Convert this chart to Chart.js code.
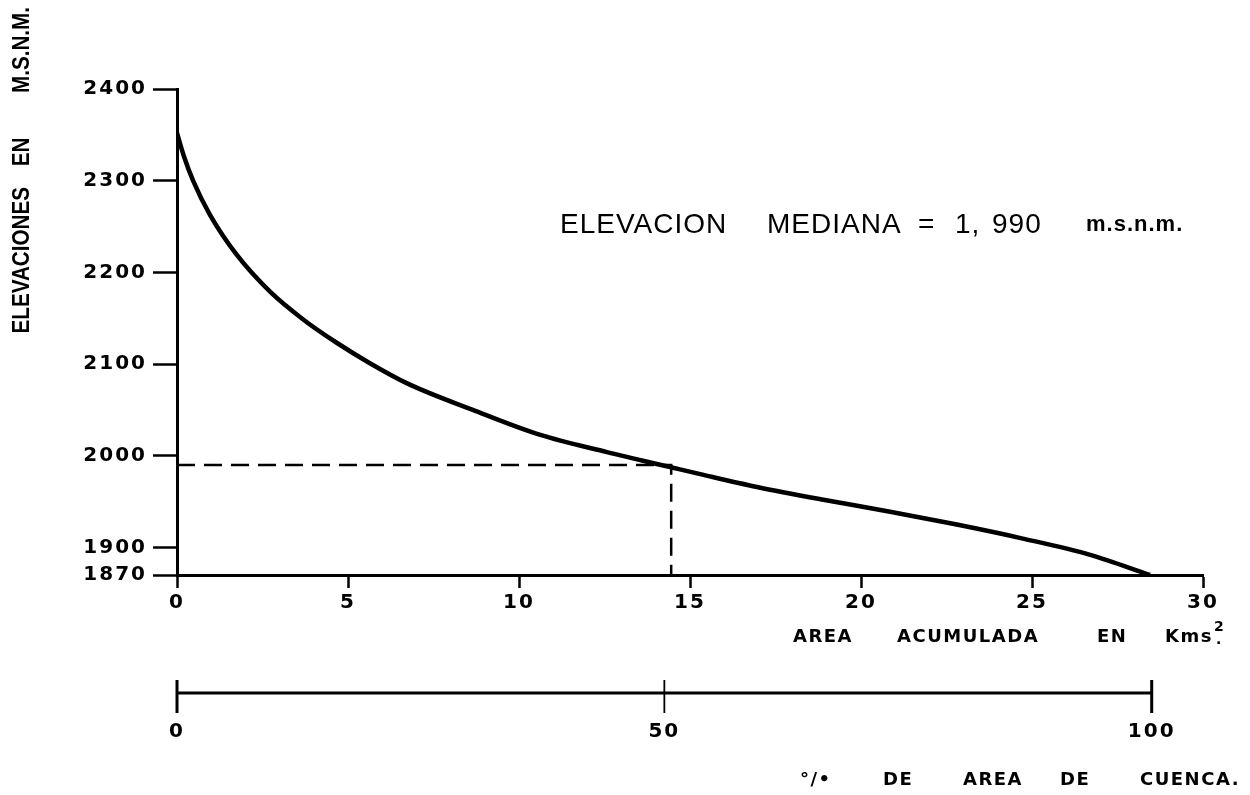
<!DOCTYPE html>
<html>
<head>
<meta charset="utf-8">
<script src="https://cdn.jsdelivr.net/npm/chart.js@4"></script>
<style>
  html, body { margin: 0; padding: 0; background: #fff; }
  #wrap { width: 1250px; height: 795px; position: relative; }
</style>
</head>
<body>
<div id="wrap"><canvas id="c"></canvas></div>
<script>
// ---- data ----
const areaKm2   = [0, 0.2, 0.47, 0.96, 1.75, 2.72, 3.68, 4.68, 5.64, 6.73, 8.65, 10.6, 12.57, 14.5, 15.3, 16.96, 18.9, 20.85, 22.8, 24.7, 26.7, 28.45];
const elevation = [2352, 2327, 2300, 2263, 2219, 2179, 2149, 2123, 2101, 2079, 2050, 2023, 2004, 1987, 1980, 1966, 1952, 1939, 1925, 1910, 1892, 1870];
const yTicks = [1870, 1900, 2000, 2100, 2200, 2300, 2400];
const xTicks = [0, 5, 10, 15, 20, 25, 30];
const pctTicks = [0, 50, 100];
const totalAreaKm2 = 28.5;
const medianElevation = 1990;
const medianArea = 14.45;

const yTitleWords = ['ELEVACIONES', 'EN', 'M.S.N.M.'];
const xTitleWords = ['AREA', 'ACUMULADA', 'EN', 'Kms'];
const pctTitleWords = ['°/•', 'DE', 'AREA', 'DE', 'CUENCA.'];
const noteWords = ['ELEVACION', 'MEDIANA', '=', '1,', '990', 'm.s.n.m.'];

const curve = areaKm2.map((x, i) => ({ x: x, y: elevation[i] }));
const medianGuide = [
  { x: xTicks[0], y: medianElevation },
  { x: medianArea, y: medianElevation },
  { x: medianArea, y: yTicks[0] }
];

const BOLD = '"DejaVu Sans", sans-serif';

const textPlugin = {
  id: 'texts',
  beforeDraw(chart) { chart.ctx.letterSpacing = '2px'; },
  afterDraw(chart) {
    const ctx = chart.ctx;
    const x2 = chart.scales.x2, xs = chart.scales.x;
    ctx.save();
    ctx.fillStyle = '#000';
    ctx.strokeStyle = '#000';
    ctx.lineCap = 'butt';

    // secondary percentage axis (0..100 % of basin area)
    const lineY = x2.top + 48;
    const p0 = x2.getPixelForValue(pctTicks[0]);
    const p1 = x2.getPixelForValue(pctTicks[pctTicks.length - 1]);
    ctx.lineWidth = 3;
    ctx.beginPath(); ctx.moveTo(p0, lineY); ctx.lineTo(p1, lineY); ctx.stroke();
    pctTicks.forEach((v, i) => {
      const px = x2.getPixelForValue(v);
      ctx.lineWidth = (i === 0 || i === pctTicks.length - 1) ? 3 : 1.8;
      ctx.beginPath(); ctx.moveTo(px, lineY - 13); ctx.lineTo(px, lineY + 20); ctx.stroke();
    });

    ctx.textBaseline = 'middle';
    ctx.textAlign = 'left';

    // x axis title
    ctx.letterSpacing = '1.5px';
    ctx.font = 'bold 18px ' + BOLD;
    const xtY = xs.top + 62;
    const xtX = [793, 897, 1097, 1165];
    xTitleWords.forEach((w, i) => ctx.fillText(w, xtX[i], xtY));
    const kw = ctx.measureText(xTitleWords[3]).width;
    ctx.font = 'bold 14px ' + BOLD;
    ctx.letterSpacing = '0px';
    ctx.fillText('2', xtX[3] + kw + 1, xtY - 10);
    ctx.fillText('.', xtX[3] + kw + 3, xtY + 3);

    // percentage axis title
    ctx.letterSpacing = '1.5px';
    ctx.font = 'bold 18px ' + BOLD;
    const ptY = x2.top + 135;
    const ptX = [800, 883, 963, 1060, 1140];
    pctTitleWords.forEach((w, i) => ctx.fillText(w, ptX[i], ptY));

    // annotation
    ctx.letterSpacing = '1px';
    ctx.font = '28px "Liberation Sans", sans-serif';
    const nY = 225;
    const nX = [560, 767, 918, 955, 992, 1086];
    noteWords.forEach((w, i) => {
      if (i === 5) { ctx.font = 'bold 22px "Liberation Sans", sans-serif'; }
      ctx.fillText(w, nX[i], nY);
    });

    // y axis title (rotated)
    ctx.letterSpacing = '0px';
    ctx.font = 'bold 24px "Liberation Sans", sans-serif';
    const tx = 22;
    const place = [[187, 'right'], [152, 'center'], [93, 'left']];
    yTitleWords.forEach((w, i) => {
      ctx.save();
      ctx.translate(tx, place[i][0]);
      ctx.rotate(-Math.PI / 2);
      ctx.scale(0.86, 1);
      ctx.textAlign = place[i][1];
      ctx.fillText(w, 0, 0);
      ctx.restore();
    });
    ctx.restore();
  }
};

new Chart(document.getElementById('c'), {
  type: 'scatter',
  data: {
    datasets: [
      {
        data: curve,
        showLine: true,
        borderColor: '#000',
        borderWidth: 4.5,
        pointRadius: 0,
        cubicInterpolationMode: 'monotone',
        fill: false
      },
      {
        data: medianGuide,
        showLine: true,
        borderColor: '#000',
        borderWidth: 2.5,
        borderDash: [18, 9],
        pointRadius: 0,
        tension: 0,
        fill: false
      }
    ]
  },
  options: {
    responsive: true,
    maintainAspectRatio: false,
    animation: false,
    layout: { padding: { left: 0, right: 47, top: 89, bottom: 0 } },
    plugins: { legend: { display: false }, tooltip: { enabled: false }, title: { display: false } },
    scales: {
      x: {
        type: 'linear', position: 'bottom', weight: 0,
        min: xTicks[0], max: xTicks[xTicks.length - 1],
        afterBuildTicks: s => { s.ticks = xTicks.map(v => ({ value: v })); },
        afterFit: s => { s.height = 70; },
        ticks: { autoSkip: false, maxRotation: 0, padding: 3, color: '#000',
                 font: { family: BOLD, size: 20, weight: 'bold' }, callback: v => String(v) },
        grid: { drawOnChartArea: false, drawTicks: true, tickLength: 13, tickWidth: 2.5, tickColor: '#000' },
        border: { display: true, color: '#000', width: 3 }
      },
      x2: {
        type: 'linear', position: 'bottom', weight: 1,
        min: 0, max: 100 * xTicks[xTicks.length - 1] / totalAreaKm2,
        afterBuildTicks: s => { s.ticks = pctTicks.map(v => ({ value: v })); },
        afterFit: s => { s.height = 150; },
        ticks: { autoSkip: false, maxRotation: 0, padding: 75, color: '#000',
                 font: { family: BOLD, size: 20, weight: 'bold' }, callback: v => String(v) },
        grid: { display: false, drawTicks: false },
        border: { display: false }
      },
      y: {
        type: 'linear', position: 'left',
        min: yTicks[0], max: yTicks[yTicks.length - 1],
        afterBuildTicks: s => { s.ticks = yTicks.map(v => ({ value: v })); },
        afterFit: s => { s.width = 177; },
        ticks: { autoSkip: false, padding: 6, color: '#000',
                 font: { family: BOLD, size: 20, weight: 'bold' }, callback: v => String(v) },
        grid: { drawOnChartArea: false, drawTicks: true, tickLength: 24, tickWidth: 2.5, tickColor: '#000' },
        border: { display: true, color: '#000', width: 3 }
      }
    }
  },
  plugins: [textPlugin]
});
</script>
</body>
</html>
